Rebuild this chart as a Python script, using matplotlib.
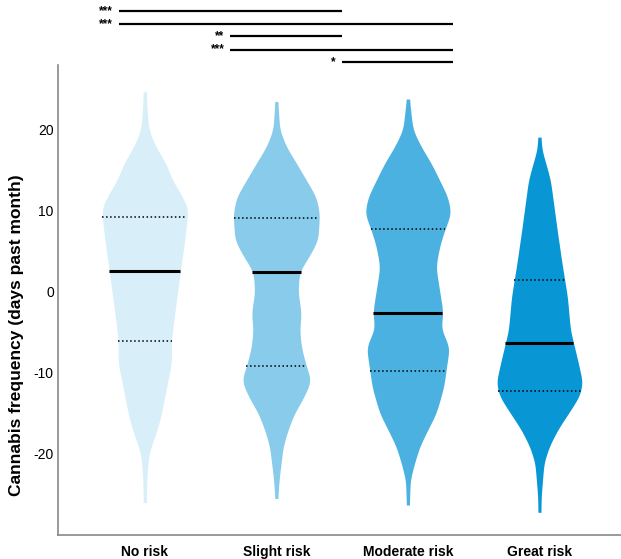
import numpy as np
import matplotlib
matplotlib.use("Agg")
import matplotlib.pyplot as plt

plt.rcParams['font.family'] = ['Liberation Sans', 'DejaVu Sans']
plt.rcParams['axes.unicode_minus'] = False

# groups and colours
groups = ['No risk', 'Slight risk', 'Moderate risk', 'Great risk']
colors = ['#d8eef8', '#88cbea', '#4bb1e0', '#0996d4']

# violin outlines: y value -> half width (px at full scale ~43.5)
no_y = [24.7, 22, 20, 17.9, 15.9, 13.8, 11.7, 10.1, 9.4, 6.4, 2.7, -2.6, -5.9, -8.8, -12.9, -15, -17, -19.9, -23, -26]
no_w = [1.5, 2.5, 4, 11, 21, 27.5, 38, 43.8, 42.8, 40, 35.8, 30, 26.7, 26.7, 20, 16.7, 12.5, 4, 2, 1.5]

slight_y = [23.5, 20, 17.9, 15.9, 13.8, 11.7, 9.7, 6.4, 4.4, 2.5, -0.1, -2.6, -4.7, -6.8, -9.2, -10.9, -12.9, -15, -17, -19.1, -23.2, -25.5]
slight_w = [1.5, 3.3, 10, 20, 30, 40, 43.3, 41.7, 33, 23, 21.7, 25, 23.3, 25, 30, 35, 28, 18, 11.7, 6.7, 2.7, 1.5]

mod_y = [23.8, 20, 17.9, 15.9, 13.8, 11.7, 9.7, 7.6, 5.6, 3.1, 0.2, -2.6, -4.5, -6.8, -9.6, -11.7, -15, -17, -19.1, -21.1, -23.2, -26.3]
mod_w = [1.5, 5, 13.3, 23.3, 31.7, 40, 43.3, 36.7, 31.7, 28, 31.7, 35.3, 33, 41.7, 38.3, 36, 28.3, 20, 11.7, 6.7, 2.3, 1.5]

great_y = [19.1, 17.5, 15.9, 13.8, 11.7, 7.6, 3.6, -0.6, -4.7, -8.8, -11.2, -12.9, -15, -17, -19.1, -21.1, -25.3, -27.2]
great_w = [1.5, 2.5, 6.3, 11, 13.3, 17.8, 22.5, 28, 31, 39, 43.3, 40, 29, 18.3, 9.7, 4.5, 1.7, 1.5]

profiles = [(no_y, no_w), (slight_y, slight_w), (mod_y, mod_w), (great_y, great_w)]

# quartiles
q1 = [-6.0, -9.1, -9.8, -12.2]
medians = [2.6, 2.5, -2.6, -6.3]
q3 = [9.2, 9.1, 7.8, 1.5]

# pairwise comparisons (group a, group b, stars)
comparisons = [(0, 2, '***'), (0, 3, '***'), (1, 2, '**'), (1, 3, '***'), (2, 3, '*')]

fig = plt.figure(figsize=(6.21, 5.59), dpi=100)
ax = fig.add_axes([58/621, 24/559, 1 - 58/621, (535-65)/559])

max_half = 0.33


def half_width(yy, wy, ww):
    ys = np.array(wy)[::-1]
    ws = np.array(ww)[::-1] / 43.5
    return np.interp(yy, ys, ws) * max_half


for i, (py, pw) in enumerate(profiles):
    yy = np.linspace(min(py), max(py), 600)
    w = half_width(yy, py, pw)
    # light smoothing so the outline isn't kinked
    k = np.exp(-0.5 * (np.arange(-25, 26) / 8.0) ** 2)
    k /= k.sum()
    wpad = np.pad(w, 25, mode='edge')
    w = np.convolve(wpad, k, mode='valid')
    ax.fill_betweenx(yy, i - w, i + w, color=colors[i], linewidth=0)
    for val, ls, lw in [(q1[i], ':', 1.1), (q3[i], ':', 1.1), (medians[i], '-', 2.2)]:
        hw = np.interp(val, yy, w)
        ax.plot([i - hw, i + hw], [val, val], color='black', linestyle=ls, lw=lw,
                solid_capstyle='butt')

ax.set_xlim(-0.66, 3.62)
ax.set_ylim(-30, 28.0)
ax.set_yticks([-20, -10, 0, 10, 20])
ax.set_xticks(range(len(groups)))
ax.set_xticklabels(groups, fontsize=11, fontweight='bold')
ax.tick_params(axis='both', length=0, labelsize=10)
ax.tick_params(axis='x', pad=7)
ax.tick_params(axis='y', pad=3)
for s in ['top', 'right']:
    ax.spines[s].set_visible(False)
for s in ['left', 'bottom']:
    ax.spines[s].set_color('#888888')
    ax.spines[s].set_linewidth(1.2)

fig.text(17/621, 1 - 335/559, 'Cannabis frequency (days past month)', rotation=90,
         fontsize=12.5, fontweight='bold', ha='center', va='center')


# significance brackets sit on a compressed scale above the plot
def bx(g):
    return -0.198 + 0.848 * g


bar_y = [34.7, 33.1, 31.6, 29.9, 28.4]
for (a, b, stars), yb in zip(comparisons, bar_y):
    ax.plot([bx(a), bx(b)], [yb, yb], color='black', lw=1.6, clip_on=False,
            solid_capstyle='butt')
    ax.text(bx(a) - 0.045, yb, stars, ha='right', va='center', fontsize=8.5,
            fontweight='bold', clip_on=False)

fig.savefig('out.png', dpi=100)
